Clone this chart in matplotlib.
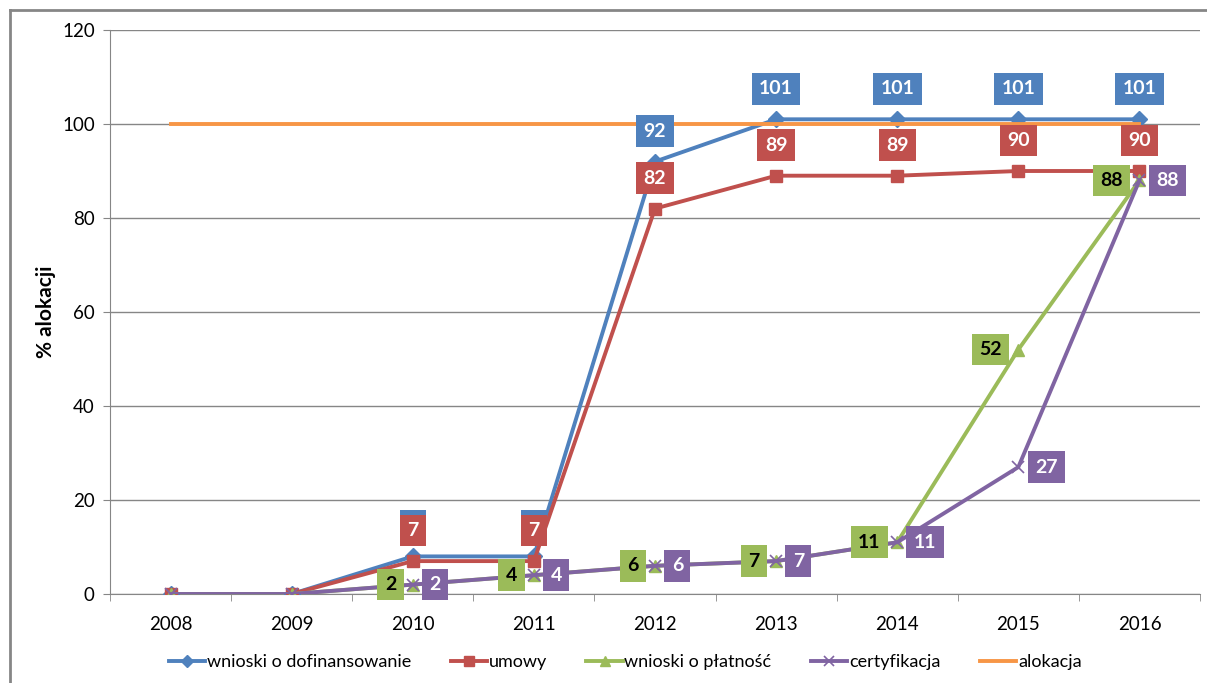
import matplotlib
matplotlib.use("Agg")
import matplotlib.pyplot as plt
from matplotlib.lines import Line2D

plt.rcParams['font.family'] = ['Lato', 'DejaVu Sans']

lata = ['2008', '2009', '2010', '2011', '2012', '2013', '2014', '2015', '2016']
wnioski_dof = [0, 0, 8, 8, 92, 101, 101, 101, 101]
umowy = [0, 0, 7, 7, 82, 89, 89, 90, 90]
wnioski_plat = [0, 0, 2, 4, 6, 7, 11, 52, 88]
certyfikacja = [0, 0, 2, 4, 6, 7, 11, 27, 88]
alokacja = [100, 100, 100, 100, 100, 100, 100, 100, 100]

NIEBIESKI = '#4F81BD'
CZERWONY = '#C0504D'
ZIELONY = '#9BBB59'
FIOLET = '#8064A2'
POMARANCZ = '#F79646'

fig = plt.figure(figsize=(12.07, 6.83), dpi=100)
ax = fig.add_axes([110/1207, 1-594/683, 1090/1207, 564/683])

x = list(range(len(lata)))

# obramowanie wykresu
fig.add_artist(Line2D([10/1207, 10/1207], [0, 1-10/683], color='#868686', lw=2, transform=fig.transFigure))
fig.add_artist(Line2D([10/1207, 1], [1-10/683, 1-10/683], color='#868686', lw=2, transform=fig.transFigure))

lw = 2.8
ax.plot(x, wnioski_dof, color=NIEBIESKI, lw=lw, marker='D', ms=8, label='wnioski o dofinansowanie', zorder=3)
ax.plot(x, umowy, color=CZERWONY, lw=lw, marker='s', ms=9, label='umowy', zorder=3)
ax.plot(x, wnioski_plat, color=ZIELONY, lw=lw, marker='^', ms=9, label='wnioski o płatność', zorder=3)
ax.plot(x, certyfikacja, color=FIOLET, lw=lw, marker='x', ms=9, mew=1.2, label='certyfikacja', zorder=3)
ax.plot(x, alokacja, color=POMARANCZ, lw=lw, label='alokacja', zorder=3)


def etykieta(xi, yi, tekst, kolor, kolor_tekstu, dx, dy, ha, z):
    ax.annotate(tekst, (xi, yi), xytext=(dx, dy), textcoords='offset points',
                ha=ha, va='center', fontsize=14, fontweight='bold', color=kolor_tekstu,
                bbox=dict(boxstyle='square,pad=0.38', fc=kolor, ec='none'), zorder=z)


for i in range(2, len(lata)):
    etykieta(i, wnioski_dof[i], str(wnioski_dof[i]), NIEBIESKI, 'white', 0, 22, 'center', 5)
for i in range(2, len(lata)):
    etykieta(i, umowy[i], str(umowy[i]), CZERWONY, 'white', 0, 22, 'center', 6)
for i in range(2, len(lata)):
    etykieta(i, wnioski_plat[i], str(wnioski_plat[i]), ZIELONY, 'black', -12, 0, 'right', 7)
for i in range(2, len(lata)):
    etykieta(i, certyfikacja[i], str(certyfikacja[i]), FIOLET, 'white', 12, 0, 'left', 8)

ax.set_xlim(-0.5, len(lata) - 0.5)
ax.set_ylim(0, 120)
ax.set_yticks(range(0, 121, 20))
ax.set_xticks(x)
ax.set_xticklabels(lata)
ax.set_xticks([i + 0.5 for i in range(-1, len(lata))], minor=True)
ax.tick_params(axis='x', which='major', length=0, pad=16, labelsize=13.5)
ax.tick_params(axis='x', which='minor', length=5, color='#868686', direction='out')
ax.tick_params(axis='y', length=5, color='#868686', labelsize=13.5, pad=6)
ax.yaxis.grid(True, color='#868686', lw=1)
ax.set_axisbelow(True)
for s in ['top', 'right']:
    ax.spines[s].set_visible(False)
for s in ['left', 'bottom']:
    ax.spines[s].set_color('#868686')
ax.set_ylabel('% alokacji', fontsize=15, fontweight='bold', labelpad=4)

fig.legend(loc='center', bbox_to_anchor=(0.518, 1-662/683), ncol=5, frameon=False,
           fontsize=13, handlelength=2.0, handletextpad=0.1, columnspacing=2.2, markerscale=0.8)

fig.savefig('out.png', dpi=100)
